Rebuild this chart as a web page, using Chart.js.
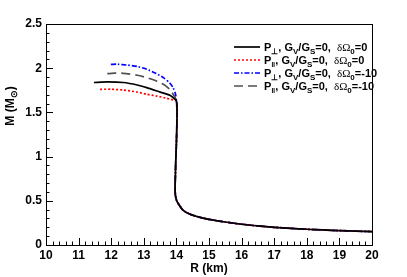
<!DOCTYPE html>
<html>
<head>
<meta charset="utf-8">
<script src="https://cdn.jsdelivr.net/npm/chart.js@4/dist/chart.umd.min.js"></script>
<style>
  html, body { margin: 0; padding: 0; background: #fff; }
  #wrap { width: 407px; height: 277px; position: relative; }
</style>
</head>
<body>
<div id="wrap"><canvas id="c"></canvas></div>
<script>
// upper branches (R in km, M in solar masses), one per curve
const blackR = [11.47, 11.9, 12.37, 12.8, 13.09, 13.5, 13.8, 14.0];
const blackM = [1.838, 1.845, 1.838, 1.81, 1.78, 1.73, 1.694, 1.63];
const redR = [11.66, 12.0, 12.37, 12.8, 13.09, 13.4, 13.7, 14.0];
const redM = [1.761, 1.762, 1.753, 1.73, 1.705, 1.685, 1.66, 1.625];
const blueR = [11.99, 12.2, 12.48, 12.8, 13.09, 13.35, 13.6, 13.8, 13.9, 13.97, 14.0];
const blueM = [2.044, 2.045, 2.036, 2.02, 1.988, 1.945, 1.893, 1.83, 1.78, 1.71, 1.64];
const grayR = [11.88, 12.1, 12.37, 12.8, 13.09, 13.35, 13.6, 13.8, 13.9, 13.97, 14.0];
const grayM = [1.938, 1.944, 1.942, 1.92, 1.893, 1.86, 1.818, 1.76, 1.705, 1.66, 1.625];
// shared low-mass branch where all four curves coincide
const tailR = [14.02, 14.01, 14.0, 13.98, 13.97, 13.96, 13.97, 14.01, 14.1, 14.2, 14.4, 14.7, 15.0, 15.5, 16.0, 16.5, 17.0, 17.5, 18.0, 18.5, 19.0, 19.5, 20.0];
const tailM = [1.5, 1.3, 1.15, 0.95, 0.8, 0.65, 0.56, 0.5, 0.445, 0.395, 0.35, 0.315, 0.29, 0.26, 0.235, 0.216, 0.2, 0.189, 0.178, 0.17, 0.163, 0.157, 0.152];

const xTicks = [10, 11, 12, 13, 14, 15, 16, 17, 18, 19, 20];
const yTicks = [0, 0.5, 1, 1.5, 2, 2.5];

const legendItems = [
  { sym: '\u22A5', last: '0' },
  { sym: '\u2016', last: '0' },
  { sym: '\u22A5', last: '-10' },
  { sym: '\u2016', last: '-10' },
];

function pts(rs, ms) {
  return rs.map((r, i) => ({ x: r, y: ms[i] })).concat(tailR.map((r, i) => ({ x: r, y: tailM[i] })));
}

const SANS = "'Liberation Sans', Arial, sans-serif";

const series = [
  { data: pts(blackR, blackM), color: '#000000', dash: [], width: 1.7 },
  { data: pts(redR, redM), color: '#ff0000', dash: [2, 2], width: 1.7 },
  { data: pts(blueR, blueM), color: '#0000ff', dash: [5, 2, 1.5, 2], width: 1.7 },
  { data: pts(grayR, grayM), color: '#505050', dash: [9, 5], width: 1.7 },
];

// ROOT-style frame, inner ticks, legend and y title
const framePlugin = {
  id: 'frame',
  afterDatasetsDraw(chart) {
    const { ctx, chartArea: a, scales: { x, y } } = chart;
    ctx.save();
    ctx.strokeStyle = '#000';
    ctx.lineWidth = 1;
    ctx.strokeRect(a.left + 0.5, a.top + 0.5, a.right - a.left, a.bottom - a.top);
    ctx.beginPath();
    for (let i = 0; i <= 50; i++) {
      const v = 10 + i * 0.2;
      const px = Math.round(x.getPixelForValue(v)) + 0.5;
      const len = i % 5 === 0 ? 7 : 3.5;
      ctx.moveTo(px, a.bottom);
      ctx.lineTo(px, a.bottom - len);
    }
    for (let i = 0; i <= 25; i++) {
      const v = i * 0.1;
      const py = Math.round(y.getPixelForValue(v)) + 0.5;
      const len = i % 5 === 0 ? 7 : 3.5;
      ctx.moveTo(a.left, py);
      ctx.lineTo(a.left + len, py);
    }
    ctx.stroke();

    // legend
    const lx = 234, tx = 264;
    legendItems.forEach((it, i) => {
      const ly = 47 + i * 13;
      const s = series[i];
      ctx.strokeStyle = s.color;
      ctx.lineWidth = s.width;
      ctx.setLineDash(s.dash);
      ctx.beginPath();
      ctx.moveTo(lx, ly);
      ctx.lineTo(lx + 26, ly);
      ctx.stroke();
      ctx.setLineDash([]);
      ctx.fillStyle = '#000';
      ctx.textBaseline = 'alphabetic';
      let cx = tx;
      const base = ly + 4;
      const put = (t, font, dy) => {
        ctx.font = font;
        ctx.fillText(t, cx, base + dy);
        cx += ctx.measureText(t).width;
      };
      const B = 'bold 11px ' + SANS, Bs = 'bold 8px ' + SANS;
      put('P', B, 0);
      put(it.sym, Bs, 3);
      put(', G', B, 0);
      put('V', Bs, 3);
      put('/G', B, 0);
      put('S', Bs, 3);
      put('=0,  ', B, 0);
      put('\u03B4\u03A9', "11px 'Liberation Serif', 'DejaVu Serif', serif", 0);
      put('0', Bs, 3);
      put('=' + it.last, B, 0);
    });

    // y axis title
    ctx.save();
    ctx.translate(14, 106);
    ctx.rotate(-Math.PI / 2);
    ctx.fillStyle = '#000';
    ctx.textBaseline = 'alphabetic';
    const parts = [['M (M', 'bold 12px ' + SANS, 0], ['\u2299', 'bold 9px ' + SANS, 3], [')', 'bold 12px ' + SANS, 0]];
    let w = 0;
    parts.forEach(p => { ctx.font = p[1]; w += ctx.measureText(p[0]).width; });
    let cx = -w / 2;
    parts.forEach(p => { ctx.font = p[1]; ctx.fillText(p[0], cx, p[2]); cx += ctx.measureText(p[0]).width; });
    ctx.restore();

    // x axis title
    ctx.font = 'bold 12px ' + SANS;
    ctx.textAlign = 'center';
    ctx.fillText('R (km)', (a.left + a.right) / 2, 272);
    ctx.restore();
  }
};

new Chart(document.getElementById('c'), {
  type: 'scatter',
  data: {
    datasets: series.map(s => ({
      data: s.data,
      showLine: true,
      borderColor: s.color,
      borderWidth: s.width,
      borderDash: s.dash,
      pointRadius: 0,
      tension: 0.2,
      fill: false,
    }))
  },
  plugins: [framePlugin],
  options: {
    responsive: true, maintainAspectRatio: false,
    animation: false,
    devicePixelRatio: 1,
    layout: { padding: { top: 24, right: 35, left: 0, bottom: 0 } },
    plugins: { legend: { display: false }, tooltip: { enabled: false } },
    scales: {
      x: {
        type: 'linear', min: 10, max: 20,
        afterFit: s => { s.height = 32; },
        afterBuildTicks: s => { s.ticks = xTicks.map(v => ({ value: v })); },
        grid: { display: false, drawTicks: false },
        border: { display: false },
        ticks: { color: '#000', font: { family: SANS, size: 12, weight: 'bold' }, padding: 3, maxRotation: 0 }
      },
      y: {
        type: 'linear', min: 0, max: 2.5,
        afterFit: s => { s.width = 46; },
        afterBuildTicks: s => { s.ticks = yTicks.map(v => ({ value: v })); },
        grid: { display: false, drawTicks: false },
        border: { display: false },
        ticks: { color: '#000', font: { family: SANS, size: 12, weight: 'bold' }, padding: 4, callback: v => String(v) }
      }
    }
  }
});
</script>
</body>
</html>
